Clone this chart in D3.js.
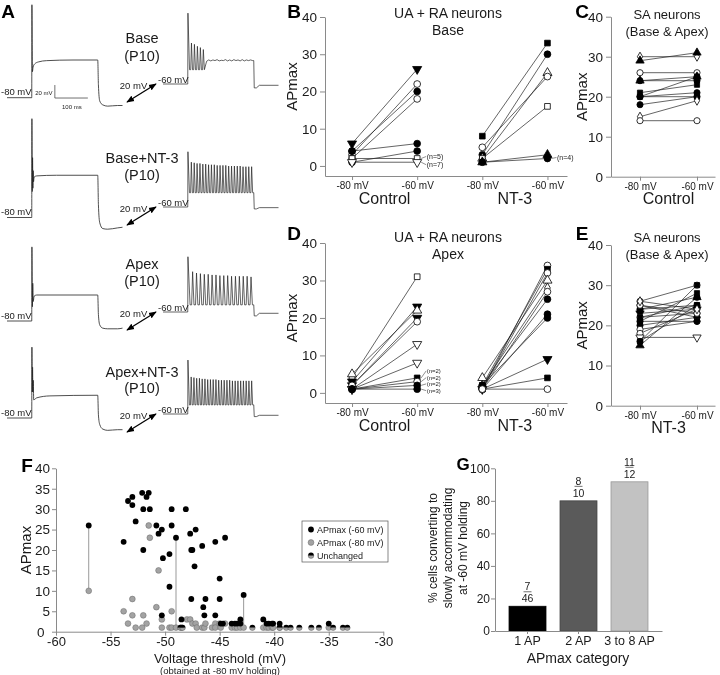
<!DOCTYPE html>
<html><head><meta charset="utf-8">
<script src="https://cdn.jsdelivr.net/npm/d3@7"></script>
<style>
body{margin:0;background:#fff;}
svg{font-family:"Liberation Sans", Arial, Helvetica, sans-serif; will-change:transform;}
text{-webkit-font-smoothing:antialiased;}
</style></head><body>
<svg id="fig" width="720" height="675"></svg>
<script>
// ================= DATA =================
// ---- Panel A: example recordings ----
const traceNames = ["Base", "Base+NT-3", "Apex", "Apex+NT-3"];
const traceAge = "(P10)";
const holdTexts = ["-80 mV", "-60 mV"];
// left traces (held at -80 mV): [time ms, mV relative to holding]
const leftTrace0 = [[0,0],[75,0],[75.5,143],[77,40],[79,47],[84,52],[95,55],[120,57],[200,58],[275,58],[277,20],[281,-5],[290,-11],[305,-13],[335,-12],[350,-12]];
const leftTrace1 = [[0,0],[75,0],[75.5,152],[76.5,40],[77.5,92],[78.5,45],[79.5,72],[80.5,55],[82,62],[90,64],[150,65],[275,65],[277,20],[281,-8],[290,-17],[305,-18],[335,-16],[350,-15]];
const leftTrace2 = [[0,0],[75,0],[75.5,114],[77,22],[78,58],[79.5,30],[82,38],[90,40],[200,40],[275,40],[277,10],[281,-6],[290,-11],[305,-12],[335,-12],[350,-11]];
const leftTrace3 = [[0,0],[75,0],[75.5,109],[76.5,40],[77.5,78],[78.5,40],[79.5,58],[81,28],[90,31],[130,34],[275,35],[277,5],[281,-10],[290,-17],[305,-19],[335,-18],[350,-18]];
const leftTraces = [leftTrace0, leftTrace1, leftTrace2, leftTrace3];
// right traces (held at -60 mV): first spike, following spike peaks, troughs (mV)
const rightFirstSpike = [109, 85, 85, 83];
const rightPeaks0 = [63, 61, 58, 56, 53];
const rightPeaks1 = [69, 68, 67, 67, 66, 66, 65, 65, 65, 64, 64, 64, 64, 63, 63, 63, 63, 63, 62, 62, 62, 62];
const rightPeaks2 = [62, 60, 59, 58, 58, 57, 57, 56, 56, 56, 55, 55, 55, 55, 55, 54];
const rightPeaks3 = [57, 56, 55, 55, 54, 54, 53, 53, 53, 53, 52, 52, 52, 52, 52, 51, 51, 51, 51, 51, 51, 51, 51];
const rightPeaks = [rightPeaks0, rightPeaks1, rightPeaks2, rightPeaks3];
const rightTrough = [22, 22, 11, 14];
const rightInterval = [9, 8.7, 11.8, 8.33];      // ms between spikes
const rightRipple0 = [35, 37, 35.5, 37, 36, 37.5, 35.5, 36.5, 36, 37.5, 35.5, 37, 35.5, 37.5, 36, 37, 35.5, 37.5, 35.5, 37, 36, 37, 36];
const rightTail = [[-6, -2], [-3, -1], [-6, -2], [-4, -2]];

// ---- Panels B-E: paired APmax at -80 / -60 mV ----
const pairLabels = ["-80 mV", "-60 mV"];
const groupLabels = ["Control", "NT-3"];
const apTicks = [0, 10, 20, 30, 40];

const bCtrl80 = [6, 3, 4, 2, 4, 1, 2, 1];
const bCtrl60 = [26, 22, 20, 18, 6, 4, 2, 1];
const bCtrlMk = ["dtri-f","circle-o","circle-f","circle-o","circle-f","circle-f","square-o","dtri-o"];
const bCtrlN  = [null, null, null, null, null, null, "(n=5)", "(n=7)"];
const bNt80 = [8, 3, 2, 5, 2, 1, 1];
const bNt60 = [33, 30, 25, 24, 16, 3, 2];
const bNtMk = ["square-f","circle-f","tri-o","circle-o","square-o","tri-f","circle-f"];
const bNtN  = [null, null, null, null, null, null, "(n=4)"];

const cCtrl80 = [30, 29, 26, 24, 24, 21, 20, 20, 20, 18, 15, 14];
const cCtrl60 = [30, 31, 26, 25, 24, 23, 25, 21, 20, 20, 19, 14];
const cCtrlMk = ["diamond-o","tri-f","circle-o","tri-f","circle-f","square-f","circle-f","circle-f","square-f","circle-f","diamond-o","circle-o"];

const dCtrl80 = [4, 3, 5, 2, 2, 1, 1, 1, 1, 1, 1];
const dCtrl60 = [31, 23, 22, 20, 19, 13, 8, 4, 3, 2, 1];
const dCtrlMk = ["square-o","dtri-f","tri-o","dtri-f","circle-o","dtri-o","dtri-o","square-f","circle-o","circle-f","circle-f"];
const dCtrlN  = [null, null, null, null, null, null, null, "(n=2)", "(n=2)", "(n=2)", "(n=3)"];
const dNt80 = [1, 2, 1, 4, 2, 1, 2, 1, 2, 1, 1, 1];
const dNt60 = [34, 33, 32, 30, 28, 27, 25, 21, 20, 9, 4, 1];
const dNtMk = ["circle-o","square-f","circle-o","tri-o","diamond-o","circle-o","circle-f","circle-f","circle-f","dtri-f","square-f","circle-o"];

const eNt80 = [26, 25, 24, 24, 23, 22, 21, 20, 19, 18, 17, 16, 15, 22, 25, 21, 26, 16];
const eNt60 = [30, 22, 27, 25, 24, 23, 28, 22, 21, 24, 17, 25, 27, 25, 23, 21, 24, 30];
const eNtMk = ["circle-o","circle-o","circle-f","square-f","dtri-f","circle-o","square-f","circle-f","circle-o","circle-o","dtri-o","circle-f","tri-f","square-f","circle-o","circle-f","diamond-o","square-f"];

// ---- Panel F: APmax vs voltage threshold ----
const fTicksX = [-60, -55, -50, -45, -40, -35, -30];
const fTicksY = [0, 5, 10, 15, 20, 25, 30, 35, 40];
const fAt60 = [[-57.0,26],[-53.8,22],[-53.4,32],[-53.0,33],[-53.0,31],[-52.7,27],[-52.1,34],[-52.0,30],[-52.0,20],[-51.7,33],[-51.5,34],[-51.4,30],[-50.8,26],[-50.6,24],[-50.3,25],[-50.2,18],[-50.3,4],[-49.6,19],[-49.6,11],[-49.4,30],[-49.4,26],[-49.0,23],[-48.5,3],[-48.1,30],[-47.7,24],[-47.6,20],[-47.5,20],[-47.6,8],[-47.3,16],[-47.2,25],[-46.6,21],[-46.5,6],[-46.4,4],[-46.3,8],[-45.4,22],[-45.4,4],[-45.0,8],[-45.0,13],[-44.9,2],[-44.7,2],[-44.5,23],[-43.9,2],[-43.6,2],[-43.4,2],[-43.1,2],[-43.1,3],[-42.8,9],[-41.0,3],[-40.7,2],[-40.5,2],[-40.2,2],[-40.1,2],[-39.5,2],[-35.0,2]];
const fAt80 = [[-57.0,10],[-53.8,5],[-53.4,2],[-53.0,8],[-53.0,4],[-52.7,1],[-52.1,1],[-52.0,4],[-51.7,2],[-51.5,26],[-51.4,23],[-50.8,6],[-50.6,15],[-50.3,3],[-50.3,1],[-49.6,1],[-49.4,5],[-49.4,1],[-49.0,1],[-48.5,1],[-48.0,3],[-47.7,3],[-47.5,2],[-47.2,2],[-47.1,1],[-46.6,1],[-46.4,1],[-46.3,2],[-45.7,1],[-45.4,2],[-45.4,1],[-45.0,2],[-44.9,1],[-44.5,2],[-43.9,1],[-43.6,1],[-43.4,1],[-43.1,1],[-42.8,1],[-41.0,1],[-40.7,1],[-40.5,1],[-40.2,1],[-40.1,1],[-39.5,1],[-35.0,1]];
const fUnchanged = [[-48.6,1],[-48.4,1],[-42.0,1],[-39.5,1],[-38.9,1],[-38.5,1],[-37.7,1],[-36.6,1],[-35.9,1],[-34.6,1],[-33.7,1],[-33.3,1]];
const fLinks = [[-57.0, 10, 26], [-49.0, 1, 23], [-42.8, 1, 9]];
const fLegend = ["APmax (-60 mV)", "APmax (-80 mV)", "Unchanged"];

// ---- Panel G ----
const gCats = ["1 AP", "2 AP", "3 to 8 AP"];
const gPct = [15.2, 80, 91.7];
const gNum = [7, 8, 11];
const gDen = [46, 10, 12];
const gTicks = [0, 20, 40, 60, 80, 100];

// ================= DRAWING =================
const svg = d3.select("#fig");
const INK = "#1a1a1a", AX = "#8a8a8a";

function txt(x, y, s, size, opts = {}) {
  const t = svg.append("text").attr("x", x).attr("y", y).text(s)
    .attr("font-size", size).attr("fill", opts.fill || INK)
    .attr("text-anchor", opts.anchor || "middle").attr("dominant-baseline", "central");
  if (opts.bold) t.attr("font-weight", "bold");
  if (opts.rotate) t.attr("transform", `rotate(-90,${x},${y})`);
  return t;
}
function styleAxis(g, fs) {
  g.selectAll(".domain").attr("stroke", AX).attr("stroke-width", 1);
  g.selectAll(".tick line").attr("stroke", AX);
  g.selectAll(".tick text").attr("fill", INK).attr("font-size", fs).attr("font-family", null);
}

// panel letters
[["A",8,11,19],["B",294,11,19],["C",582,11,19],["D",294,233,19],["E",582,233,19],["F",27,465,19],["G",463,464,17]]
  .forEach(([l,x,y,s]) => txt(x, y, l, s, {bold: true, fill: "#000"}));

// ---------- Panel A ----------
const rowsLayout = [
  {lb: 97.7, rb: 84, ny: 37.7, ay: 55.5},
  {lb: 217.5, rb: 207, ny: 157.5, ay: 174.5},
  {lb: 321, rb: 312, ny: 264, ay: 281},
  {lb: 418, rb: 414, ny: 371.5, ay: 388}
];
const msPx = 0.33, mvPx = 0.65;
const xL = d3.scaleLinear().domain([0, 350]).range([7, 7 + 350 * msPx]);
const xR = d3.scaleLinear().domain([0, 350]).range([163, 163 + 350 * msPx]);
const gA = svg.append("g");
gA.append("defs").append("marker").attr("id", "ah").attr("viewBox", "0 0 10 10")
  .attr("refX", 9).attr("refY", 5).attr("markerWidth", 6).attr("markerHeight", 6)
  .attr("orient", "auto-start-reverse")
  .append("path").attr("d", "M0,1 L10,5 L0,9 Z").attr("fill", "#000");

function rightPoints(r) {
  const it = rightInterval[r], tr = rightTrough[r];
  const pts = [[0,0],[75,0],[75.6, rightFirstSpike[r]],[75 + 0.6 * it, tr]];
  rightPeaks[r].forEach((p, k) => {
    const ts = 75 + (k + 1) * it;
    pts.push([ts, tr], [ts + 0.25 * it, p], [ts + 0.6 * it, tr]);
  });
  if (r === 0) {
    const t0 = 75 + (rightPeaks[0].length + 1) * it;
    const step = (275 - t0) / rightRipple0.length;
    rightRipple0.forEach((v, k) => pts.push([t0 + (k + 0.5) * step, v]));
    pts.push([275, 36]);
  } else {
    pts.push([275, tr]);
  }
  const [mn, st] = rightTail[r];
  pts.push([276.5, mn], [283, mn], [292, st], [350, st]);
  return pts;
}

rowsLayout.forEach((L, r) => {
  const yl = d3.scaleLinear().domain([0, 20]).range([L.lb, L.lb - 20 * mvPx]);
  const yr = d3.scaleLinear().domain([0, 20]).range([L.rb, L.rb - 20 * mvPx]);
  const lineL = d3.line().x(d => xL(d[0])).y(d => yl(d[1])).curve(d3.curveMonotoneX);
  const lineR = d3.line().x(d => xR(d[0])).y(d => yr(d[1]));
  gA.append("path").attr("d", lineL(leftTraces[r])).attr("fill", "none").attr("stroke", "#222").attr("stroke-width", 0.8);
  gA.append("path").attr("d", lineR(rightPoints(r))).attr("fill", "none").attr("stroke", "#222").attr("stroke-width", 0.7);
  txt(1, L.lb - 6, holdTexts[0], 9.5, {anchor: "start"});
  txt(158, L.rb - 4.5, holdTexts[1], 9.5, {anchor: "start"});
  txt(142, L.ny, traceNames[r], 14.5);
  txt(142, L.ay, traceAge, 14.5);
  txt(133.5, L.rb + 1.5, "20 mV", 9.5);
  gA.append("line").attr("x1", 127).attr("y1", L.rb + 18).attr("x2", 156).attr("y2", L.rb)
    .attr("stroke", "#000").attr("stroke-width", 1.3)
    .attr("marker-start", "url(#ah)").attr("marker-end", "url(#ah)");
  if (r === 0) {
    const sx = xL(145), sy = yl(-0.5);
    gA.append("path").attr("d", `M${sx},${sy - 20 * mvPx}V${sy}H${sx + 100 * msPx}`)
      .attr("fill", "none").attr("stroke", "#333").attr("stroke-width", 0.7);
    txt(sx - 11, sy - 5.5, "20 mV", 6, {fill: "#222"});
    txt(sx + 17, sy + 9, "100 ms", 6, {fill: "#222"});
  }
});

// ---------- Paired panels ----------
function drawMarker(g, type, x, y, size) {
  const [shape, f] = type.split("-");
  const sym = {circle: d3.symbolCircle, square: d3.symbolSquare, tri: d3.symbolTriangle, dtri: d3.symbolTriangle, diamond: d3.symbolDiamond}[shape];
  const sz = shape === "square" ? size * 0.9 : shape === "diamond" ? size * 0.8 : size;
  g.append("path").attr("d", d3.symbol(sym, sz)())
    .attr("transform", `translate(${x},${y})` + (shape === "dtri" ? " rotate(180)" : ""))
    .attr("fill", f === "f" ? "#000" : "#fff").attr("stroke", "#000").attr("stroke-width", 0.8);
}
function drawPairs(g, x, y, i0, a, b, mk, nl, msize) {
  a.forEach((v, i) => g.append("line").attr("x1", x(i0)).attr("y1", y(v)).attr("x2", x(i0 + 1)).attr("y2", y(b[i]))
    .attr("stroke", "#222").attr("stroke-width", 0.7));
  a.forEach((v, i) => { drawMarker(g, mk[i], x(i0), y(v), msize); drawMarker(g, mk[i], x(i0 + 1), y(b[i]), msize); });
  if (nl) {
    const idx = nl.map((s, i) => s ? i : -1).filter(i => i >= 0);
    idx.forEach((i, k) => {
      const my = y(b[i]);
      const off = idx.length === 2 ? (k === 0 ? -2 : 2.5) : idx.length === 1 ? -1 : [-7, -4, -1.5, 1.5][k];
      const ty = my + off;
      const fs = idx.length > 2 ? 6 : 7;
      g.append("path").attr("d", `M${x(i0 + 1) + 4},${my}L${x(i0 + 1) + 9},${ty}`).attr("stroke", "#444").attr("stroke-width", 0.6).attr("fill", "none");
      g.append("text").attr("x", x(i0 + 1) + 9.5).attr("y", ty).text(nl[i]).attr("font-size", fs)
        .attr("fill", "#222").attr("dominant-baseline", "central");
    });
  }
}
function pairedPanel(cfg) {
  const g = svg.append("g");
  const x = d3.scaleLinear().domain(cfg.xd).range(cfg.xr);
  const y = d3.scaleLinear().domain(cfg.yd).range(cfg.yr);
  const ax = g.append("g").attr("transform", `translate(0,${cfg.yr[0]})`)
    .call(d3.axisBottom(x).tickValues(cfg.ticks).tickFormat(i => pairLabels[i % 2]).tickSize(4).tickSizeOuter(0).tickPadding(2));
  styleAxis(ax, 10);
  const ay = g.append("g").attr("transform", `translate(${cfg.xr[0]},0)`)
    .call(d3.axisLeft(y).tickValues(apTicks).tickSize(5).tickSizeOuter(0).tickPadding(3));
  styleAxis(ay, 13.5);
  cfg.groups.forEach(gr => drawPairs(g, x, y, gr.i0, gr.a, gr.b, gr.mk, gr.n, cfg.ms));
  cfg.glabels.forEach(gl => txt(x(gl.i), cfg.yr[0] + 22, gl.t, 16));
  txt(cfg.ylx, (cfg.yr[0] + cfg.yr[1]) / 2 + cfg.yly, "APmax", 15, {rotate: true});
  txt(cfg.tx, cfg.t1y, cfg.t1, cfg.tfs);
  txt(cfg.tx, cfg.t1y + 17, cfg.t2, cfg.tfs);
}
pairedPanel({xd: [-0.415, 3.3], xr: [325, 567], yd: [-2.7, 40], yr: [176, 17], ticks: [0,1,2,3], ms: 36,
  groups: [{i0: 0, a: bCtrl80, b: bCtrl60, mk: bCtrlMk, n: bCtrlN}, {i0: 2, a: bNt80, b: bNt60, mk: bNtMk, n: bNtN}],
  glabels: [{i: 0.5, t: groupLabels[0]}, {i: 2.5, t: groupLabels[1]}],
  ylx: 291, yly: -10, tx: 448, t1y: 13, t1: "UA + RA neurons", t2: "Base", tfs: 14});
pairedPanel({xd: [-0.415, 3.3], xr: [325, 567], yd: [-2.7, 40], yr: [403, 243], ticks: [0,1,2,3], ms: 36,
  groups: [{i0: 0, a: dCtrl80, b: dCtrl60, mk: dCtrlMk, n: dCtrlN}, {i0: 2, a: dNt80, b: dNt60, mk: dNtMk, n: null}],
  glabels: [{i: 0.5, t: groupLabels[0]}, {i: 2.5, t: groupLabels[1]}],
  ylx: 291, yly: -5, tx: 448, t1y: 237, t1: "UA + RA neurons", t2: "Apex", tfs: 14});
pairedPanel({xd: [-0.509, 1.316], xr: [611, 715], yd: [0, 40], yr: [176.7, 16.7], ticks: [0,1], ms: 30,
  groups: [{i0: 0, a: cCtrl80, b: cCtrl60, mk: cCtrlMk, n: null}],
  glabels: [{i: 0.5, t: groupLabels[0]}],
  ylx: 582, yly: 0, tx: 667, t1y: 14, t1: "SA neurons", t2: "(Base & Apex)", tfs: 13});
pairedPanel({xd: [-0.509, 1.316], xr: [611, 715], yd: [0, 40], yr: [405.7, 245], ticks: [0,1], ms: 30,
  groups: [{i0: 0, a: eNt80, b: eNt60, mk: eNtMk, n: null}],
  glabels: [{i: 0.5, t: groupLabels[1]}],
  ylx: 582, yly: 0, tx: 667, t1y: 237, t1: "SA neurons", t2: "(Base & Apex)", tfs: 13});

// ---------- Panel F ----------
(function () {
  const g = svg.append("g");
  const x = d3.scaleLinear().domain([-60, -30]).range([56, 383.3]);
  const y = d3.scaleLinear().domain([0, 40]).range([631.7, 468.3]);
  const ax = g.append("g").attr("transform", `translate(0,${y(0)})`)
    .call(d3.axisBottom(x).tickValues(fTicksX).tickFormat(d => String(d)).tickSize(4).tickSizeOuter(0).tickPadding(1));
  styleAxis(ax, 13);
  const ay = g.append("g").attr("transform", `translate(${x(-60)},0)`)
    .call(d3.axisLeft(y).tickValues(fTicksY).tickSize(4).tickSizeOuter(0).tickPadding(2));
  styleAxis(ay, 13.5);
  ay.selectAll(".tick text").filter(d => d === 0).attr("x", -11.5);
  fLinks.forEach(([t, a, b]) => g.append("line").attr("x1", x(t)).attr("x2", x(t)).attr("y1", y(a)).attr("y2", y(b))
    .attr("stroke", "#999").attr("stroke-width", 1));
  const r = 2.9;
  fAt80.forEach(([t, v]) => g.append("circle").attr("cx", x(t)).attr("cy", y(v)).attr("r", r)
    .attr("fill", "#a3a3a3").attr("stroke", "#666").attr("stroke-width", 0.5));
  fAt60.forEach(([t, v]) => g.append("circle").attr("cx", x(t)).attr("cy", y(v)).attr("r", r).attr("fill", "#000"));
  const top = d3.arc().innerRadius(0).outerRadius(r).startAngle(-Math.PI / 2).endAngle(Math.PI / 2);
  const bot = d3.arc().innerRadius(0).outerRadius(r).startAngle(Math.PI / 2).endAngle(3 * Math.PI / 2);
  function half(gx, cx, cy) {
    gx.append("path").attr("d", bot()).attr("transform", `translate(${cx},${cy})`).attr("fill", "#a3a3a3").attr("stroke", "#444").attr("stroke-width", 0.4);
    gx.append("path").attr("d", top()).attr("transform", `translate(${cx},${cy})`).attr("fill", "#000");
  }
  fUnchanged.forEach(([t, v]) => half(g, x(t), y(v)));
  txt(25, 550, "APmax", 15, {rotate: true});
  txt(220, 658, "Voltage threshold (mV)", 13);
  txt(220, 670, "(obtained at -80 mV holding)", 9.5);
  // legend
  g.append("rect").attr("x", 302).attr("y", 521).attr("width", 86).attr("height", 41)
    .attr("fill", "#fff").attr("stroke", "#555").attr("stroke-width", 0.7);
  const ly = [529.5, 542.5, 555.5];
  g.append("circle").attr("cx", 311).attr("cy", ly[0]).attr("r", r).attr("fill", "#000");
  g.append("circle").attr("cx", 311).attr("cy", ly[1]).attr("r", r).attr("fill", "#a3a3a3").attr("stroke", "#666").attr("stroke-width", 0.5);
  half(g, 311, ly[2]);
  fLegend.forEach((s, i) => txt(317, ly[i], s, 9, {anchor: "start"}));
})();

// ---------- Panel G ----------
(function () {
  const g = svg.append("g");
  const x = d3.scaleBand().domain(gCats).range([495, 662]).paddingInner(0.275).paddingOuter(0.275);
  const y = d3.scaleLinear().domain([0, 100]).range([631, 468.3]);
  const fills = ["#000", "#5a5a5a", "#c2c2c2"];
  const strokes = ["#000", "#444", "#999"];
  gCats.forEach((c, i) => {
    g.append("rect").attr("x", x(c)).attr("y", y(gPct[i])).attr("width", x.bandwidth()).attr("height", y(0) - y(gPct[i]))
      .attr("fill", fills[i]).attr("stroke", strokes[i]).attr("stroke-width", 0.8);
    const cx = x(c) + x.bandwidth() / 2, ty = y(gPct[i]);
    txt(cx, ty - 20, String(gNum[i]), 10.5);
    g.append("line").attr("x1", cx - 4).attr("x2", cx + 4).attr("y1", ty - 14.5).attr("y2", ty - 14.5).attr("stroke", "#333").attr("stroke-width", 0.7);
    txt(cx, ty - 8, String(gDen[i]), 10.5);
  });
  const ax = g.append("g").attr("transform", `translate(0,${y(0)})`)
    .call(d3.axisBottom(x).tickSize(3).tickSizeOuter(0).tickPadding(2));
  styleAxis(ax, 12.5);
  const ay = g.append("g").attr("transform", `translate(495,0)`)
    .call(d3.axisLeft(y).tickValues(gTicks).tickSize(4).tickSizeOuter(0).tickPadding(1));
  styleAxis(ay, 12);
  txt(578, 658, "APmax category", 14);
  txt(433, 548, "% cells converting to", 12, {rotate: true});
  txt(448, 548, "slowly accommodating", 12, {rotate: true});
  txt(463, 548, "at -60 mV holding", 12, {rotate: true});
})();
</script>
</body></html>
